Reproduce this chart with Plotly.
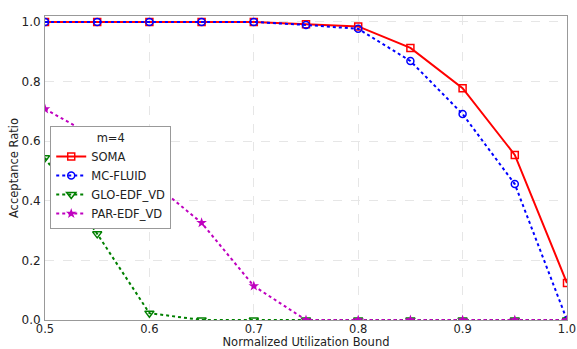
import plotly.graph_objects as go

x_vals = [0.5, 0.55, 0.6, 0.65, 0.7, 0.75, 0.8, 0.85, 0.9, 0.95, 1.0]
soma = [1.0, 1.0, 1.0, 1.0, 1.0, 0.992, 0.985, 0.913, 0.778, 0.554, 0.124]
mc_fluid = [1.0, 1.0, 1.0, 1.0, 1.0, 0.99, 0.977, 0.869, 0.691, 0.456, 0.0]
glo_edf_vd = [0.544, 0.289, 0.023, 0.0, 0.0, 0.0, 0.0, 0.0, 0.0, 0.0, 0.0]
par_edf_vd = [0.708, 0.61, 0.47, 0.326, 0.114, 0.0, 0.0, 0.0, 0.0, 0.0, 0.0]
x_ticks = [0.5, 0.6, 0.7, 0.8, 0.9, 1.0]
y_ticks = [0.0, 0.2, 0.4, 0.6, 0.8, 1.0]

font = "DejaVu Sans"
fig = go.Figure()
fig.add_trace(go.Scatter(x=x_vals, y=soma, name="SOMA", mode="lines+markers",
                         line=dict(color="#ff0000", width=2, dash="solid"),
                         marker=dict(symbol="square-open", size=7, color="#ff0000", line=dict(width=1.5))))
fig.add_trace(go.Scatter(x=x_vals, y=mc_fluid, name="MC-FLUID", mode="lines+markers",
                         line=dict(color="#0000ff", width=2, dash="dot"),
                         marker=dict(symbol="circle-open", size=7, color="#0000ff", line=dict(width=1.5))))
fig.add_trace(go.Scatter(x=x_vals, y=glo_edf_vd, name="GLO-EDF_VD", mode="lines+markers",
                         line=dict(color="#008000", width=2, dash="dot"),
                         marker=dict(symbol="triangle-down-open", size=8, color="#008000", line=dict(width=1.5))))
fig.add_trace(go.Scatter(x=x_vals, y=par_edf_vd, name="PAR-EDF_VD", mode="lines+markers",
                         line=dict(color="#bf00bf", width=2, dash="dot"),
                         marker=dict(symbol="star", size=8, color="#bf00bf")))

axis_common = dict(showline=True, linecolor="#999999", linewidth=1, mirror=True,
                   showgrid=True, gridcolor="#e6e6e6", griddash="dash", gridwidth=1,
                   zeroline=False, ticks="", automargin=False)
fig.update_xaxes(range=[0.5, 1.0], tickvals=x_ticks, ticktext=[f"{v:.1f}" for v in x_ticks],
                 title=dict(text="Normalized Utilization Bound", font=dict(family=font, size=11.5, color="#222222"), standoff=2),
                 ticklabelstandoff=-2, tickfont=dict(family=font, size=11.5, color="#222222"),
                 **axis_common)
fig.update_yaxes(range=[0.0, 1.02], tickvals=y_ticks, ticktext=[f"{v:.1f}" for v in y_ticks],
                 title=dict(text="Acceptance Ratio", font=dict(family=font, size=11.5, color="#222222"), standoff=0),
                 ticklabelstandoff=1, tickfont=dict(family=font, size=12, color="#222222"),
                 **axis_common)

fig.update_layout(
    width=577, height=349,
    margin=dict(l=45, r=10, t=16, b=29),
    plot_bgcolor="white", paper_bgcolor="white",
    font=dict(family=font, size=12, color="#222222"),
    legend=dict(x=0.01, y=0.638, xanchor="left", yanchor="top",
                bgcolor="white", bordercolor="#999999", borderwidth=1,
                title=dict(text="m=4", side="top center", font=dict(family=font, size=11.5)),
                font=dict(family=font, size=11.5), tracegroupgap=0, itemwidth=30),
)
fig.write_html("out.html", config={"displayModeBar": False},
               post_script="document.body.style.margin='0';")
